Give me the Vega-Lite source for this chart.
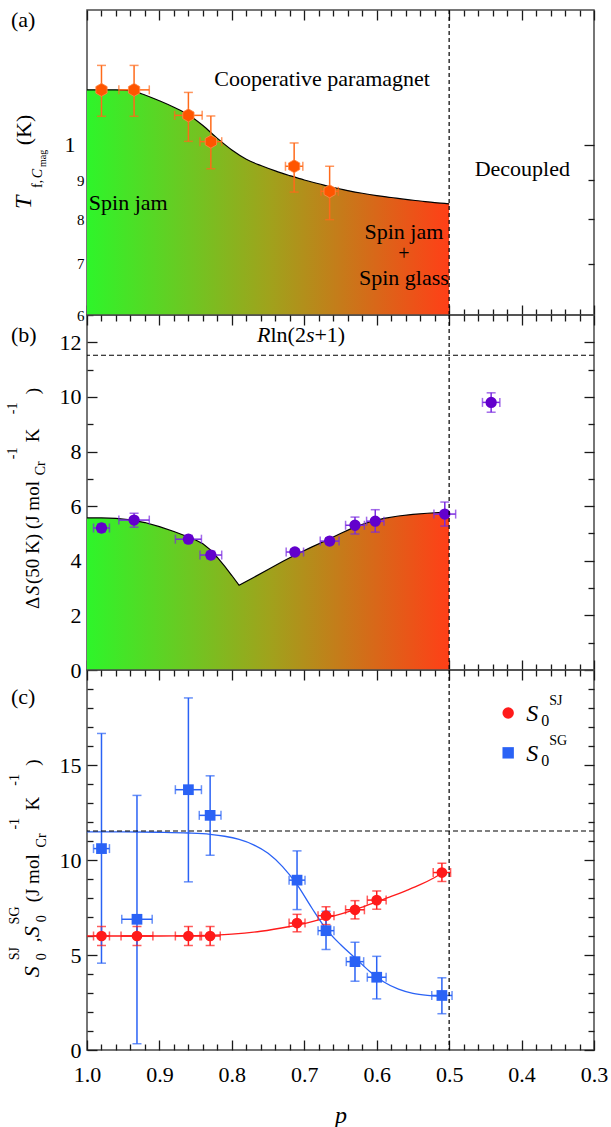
{
"$schema":"https://vega.github.io/schema/vega-lite/v6.json",
"background":"white",
"padding":{"left":5,"top":8,"right":0,"bottom":0},
"spacing":0,
"bounds":"flush",
"config":{
 "font":"Liberation Serif",
 "view":{"stroke":"#4a4a4a","strokeWidth":1.5},
 "axis":{"grid":false,"domain":false,"tickColor":"#1a1a1a","tickWidth":1.3,"labelFont":"Liberation Serif","labelFontSize":22,"labelColor":"#000","labelOverlap":false,"labelFlush":false,"titleFont":"Liberation Serif","titleColor":"#000"},
 "text":{"font":"Liberation Serif","fontSize":22,"color":"#000"}
},
"datasets":{
 "a_curve":[{"p":1.0,"T":11.8},{"p":0.98,"T":11.8},{"p":0.96,"T":11.8},{"p":0.94,"T":11.77},{"p":0.92,"T":11.62},{"p":0.9,"T":11.42},{"p":0.88,"T":11.2},{"p":0.86,"T":10.95},{"p":0.84,"T":10.6},{"p":0.82,"T":10.2},{"p":0.8,"T":9.85},{"p":0.78,"T":9.58},{"p":0.76,"T":9.4},{"p":0.74,"T":9.25},{"p":0.72,"T":9.12},{"p":0.7,"T":9.0},{"p":0.68,"T":8.9},{"p":0.66,"T":8.8},{"p":0.64,"T":8.72},{"p":0.62,"T":8.65},{"p":0.6,"T":8.59},{"p":0.58,"T":8.54},{"p":0.56,"T":8.49},{"p":0.54,"T":8.45},{"p":0.52,"T":8.41},{"p":0.5,"T":8.38}],
 "a_pts":[
  {"p":0.98,"T":11.8,"lo":10.9,"hi":12.7,"plo":0.977,"phi":0.983},
  {"p":0.935,"T":11.8,"lo":10.9,"hi":12.7,"plo":0.914,"phi":0.956},
  {"p":0.86,"T":10.93,"lo":10.11,"hi":11.71,"plo":0.841,"phi":0.879},
  {"p":0.829,"T":10.1,"lo":9.31,"hi":10.91,"plo":0.814,"phi":0.844},
  {"p":0.714,"T":9.38,"lo":8.68,"hi":10.06,"plo":0.702,"phi":0.726},
  {"p":0.665,"T":8.7,"lo":7.99,"hi":9.38,"plo":0.653,"phi":0.677}],
 "b_curve":[{"p":1.0,"S":5.57},{"p":0.98,"S":5.57},{"p":0.96,"S":5.55},{"p":0.94,"S":5.5},{"p":0.92,"S":5.4},{"p":0.9,"S":5.25},{"p":0.88,"S":5.07},{"p":0.86,"S":4.87},{"p":0.85,"S":4.76},{"p":0.84,"S":4.62},{"p":0.83,"S":4.41},{"p":0.82,"S":4.12},{"p":0.81,"S":3.8},{"p":0.8,"S":3.46},{"p":0.79,"S":3.1},{"p":0.77,"S":3.39},{"p":0.75,"S":3.68},{"p":0.73,"S":3.97},{"p":0.71,"S":4.25},{"p":0.69,"S":4.5},{"p":0.67,"S":4.74},{"p":0.65,"S":5.0},{"p":0.63,"S":5.24},{"p":0.61,"S":5.42},{"p":0.59,"S":5.55},{"p":0.57,"S":5.64},{"p":0.55,"S":5.7},{"p":0.53,"S":5.74},{"p":0.51,"S":5.77},{"p":0.5,"S":5.78}],
 "b_pts":[
  {"p":0.98,"S":5.2,"lo":5.05,"hi":5.35,"plo":0.969,"phi":0.991},
  {"p":0.935,"S":5.49,"lo":5.23,"hi":5.74,"plo":0.914,"phi":0.956},
  {"p":0.86,"S":4.79,"lo":4.65,"hi":4.93,"plo":0.842,"phi":0.878},
  {"p":0.829,"S":4.21,"lo":4.07,"hi":4.35,"plo":0.814,"phi":0.844},
  {"p":0.713,"S":4.32,"lo":4.2,"hi":4.44,"plo":0.701,"phi":0.725},
  {"p":0.665,"S":4.72,"lo":4.6,"hi":4.84,"plo":0.652,"phi":0.678},
  {"p":0.63,"S":5.3,"lo":4.98,"hi":5.6,"plo":0.617,"phi":0.643},
  {"p":0.602,"S":5.45,"lo":5.05,"hi":5.87,"plo":0.59,"phi":0.614},
  {"p":0.506,"S":5.71,"lo":5.27,"hi":6.15,"plo":0.491,"phi":0.521},
  {"p":0.442,"S":9.8,"lo":9.44,"hi":10.15,"plo":0.43,"phi":0.454}],
 "c_curve":[
  {"series":"SJ","p":1.0,"S":6.0},{"series":"SJ","p":0.95,"S":6.0},{"series":"SJ","p":0.9,"S":6.0},{"series":"SJ","p":0.85,"S":6.02},{"series":"SJ","p":0.8,"S":6.1},{"series":"SJ","p":0.76,"S":6.25},{"series":"SJ","p":0.72,"S":6.5},{"series":"SJ","p":0.7,"S":6.65},{"series":"SJ","p":0.68,"S":6.85},{"series":"SJ","p":0.66,"S":7.05},{"series":"SJ","p":0.64,"S":7.27},{"series":"SJ","p":0.62,"S":7.52},{"series":"SJ","p":0.6,"S":7.8},{"series":"SJ","p":0.58,"S":8.08},{"series":"SJ","p":0.56,"S":8.38},{"series":"SJ","p":0.54,"S":8.7},{"series":"SJ","p":0.52,"S":9.08},{"series":"SJ","p":0.51,"S":9.3},
  {"series":"SG","p":1.0,"S":11.48},{"series":"SG","p":0.95,"S":11.48},{"series":"SG","p":0.9,"S":11.46},{"series":"SG","p":0.86,"S":11.42},{"series":"SG","p":0.83,"S":11.35},{"series":"SG","p":0.81,"S":11.25},{"series":"SG","p":0.79,"S":11.08},{"series":"SG","p":0.77,"S":10.8},{"series":"SG","p":0.75,"S":10.35},{"series":"SG","p":0.73,"S":9.65},{"series":"SG","p":0.71,"S":8.7},{"series":"SG","p":0.69,"S":7.5},{"series":"SG","p":0.67,"S":6.38},{"series":"SG","p":0.65,"S":5.55},{"series":"SG","p":0.63,"S":4.85},{"series":"SG","p":0.61,"S":4.15},{"series":"SG","p":0.59,"S":3.58},{"series":"SG","p":0.57,"S":3.2},{"series":"SG","p":0.55,"S":2.98},{"series":"SG","p":0.53,"S":2.87},{"series":"SG","p":0.51,"S":2.82}],
 "c_pts":[
  {"series":"SJ","p":0.98,"S":6.0,"lo":5.5,"hi":6.5,"plo":0.969,"phi":0.991},
  {"series":"SJ","p":0.931,"S":6.0,"lo":5.5,"hi":6.5,"plo":0.909,"phi":0.953},
  {"series":"SJ","p":0.86,"S":6.0,"lo":5.5,"hi":6.5,"plo":0.842,"phi":0.878},
  {"series":"SJ","p":0.83,"S":6.0,"lo":5.5,"hi":6.5,"plo":0.816,"phi":0.844},
  {"series":"SJ","p":0.71,"S":6.68,"lo":6.22,"hi":7.14,"plo":0.699,"phi":0.721},
  {"series":"SJ","p":0.67,"S":7.07,"lo":6.6,"hi":7.54,"plo":0.659,"phi":0.681},
  {"series":"SJ","p":0.63,"S":7.38,"lo":6.9,"hi":7.86,"plo":0.617,"phi":0.643},
  {"series":"SJ","p":0.6,"S":7.89,"lo":7.41,"hi":8.37,"plo":0.587,"phi":0.613},
  {"series":"SJ","p":0.51,"S":9.34,"lo":8.87,"hi":9.83,"plo":0.498,"phi":0.522},
  {"series":"SG","p":0.98,"S":10.6,"lo":4.57,"hi":16.66,"plo":0.969,"phi":0.991},
  {"series":"SG","p":0.931,"S":6.88,"lo":0.33,"hi":13.4,"plo":0.91,"phi":0.952},
  {"series":"SG","p":0.86,"S":13.7,"lo":8.85,"hi":18.53,"plo":0.842,"phi":0.878},
  {"series":"SG","p":0.83,"S":12.35,"lo":10.25,"hi":14.43,"plo":0.815,"phi":0.845},
  {"series":"SG","p":0.71,"S":8.94,"lo":7.39,"hi":10.48,"plo":0.699,"phi":0.721},
  {"series":"SG","p":0.67,"S":6.28,"lo":5.29,"hi":7.3,"plo":0.659,"phi":0.681},
  {"series":"SG","p":0.63,"S":4.65,"lo":3.62,"hi":5.67,"plo":0.618,"phi":0.642},
  {"series":"SG","p":0.6,"S":3.83,"lo":2.69,"hi":4.93,"plo":0.587,"phi":0.613},
  {"series":"SG","p":0.51,"S":2.87,"lo":1.91,"hi":3.8,"plo":0.496,"phi":0.524}],
 "c_legend":[{"series":"SJ","p":0.4185,"S":17.74},{"series":"SG","p":0.4185,"S":15.64}]
},
"vconcat":[
 {
  "width":507,"height":305,
  "resolve":{"axis":{"x":"independent","y":"independent"}},
  "layer":[
   {"data":{"name":"a_curve"},
    "mark":{"type":"area","interpolate":"monotone","fill":{"gradient":"linear","x1":0,"y1":0,"x2":1,"y2":0,"stops":[{"offset":0,"color":"#2ef52a"},{"offset":0.5,"color":"#9fa31c"},{"offset":1,"color":"#ff3f17"}]}},
    "encoding":{
     "x":{"field":"p","type":"quantitative","scale":{"domain":[0.3,1.0],"reverse":true,"nice":false,"zero":false},"axis":{"orient":"bottom","values":[1,0.9,0.8,0.7,0.6,0.5,0.4,0.3],"tickSize":-10,"labels":false,"title":null}},
     "y":{"field":"T","type":"quantitative","scale":{"type":"log","domain":[6,15],"nice":false},"axis":{"orient":"left","values":[10],"tickSize":-10,"labelExpr":"'1'","labelPadding":22,"labelFont":"Liberation Serif","title":null}},
     "y2":{"datum":6}}},
   {"data":{"name":"a_curve"},
    "mark":{"type":"line","interpolate":"monotone","color":"#000","strokeWidth":1.2},
    "encoding":{
     "x":{"field":"p","type":"quantitative","axis":{"orient":"bottom","values":[0.98,0.96,0.94,0.92,0.88,0.86,0.84,0.82,0.78,0.76,0.74,0.72,0.68,0.66,0.64,0.62,0.58,0.56,0.54,0.52,0.48,0.46,0.44,0.42,0.38,0.36,0.34,0.32],"tickSize":-6,"labels":false,"title":null}},
     "y":{"field":"T","type":"quantitative","axis":{"orient":"left","values":[6,7,8,9],"tickSize":-6,"labelFontSize":15,"labelPadding":9,"labelFont":"Liberation Serif","title":null}}}},
   {"data":{"name":"a_pts"},
    "mark":{"type":"rule","color":"#ff6a1a","strokeWidth":1.5},
    "encoding":{
     "x":{"field":"p","type":"quantitative","axis":{"orient":"top","values":[1,0.9,0.8,0.7,0.6,0.5,0.4,0.3],"tickSize":-10,"labels":false,"title":null}},
     "y":{"field":"lo","type":"quantitative","axis":{"orient":"right","values":[10],"tickSize":-10,"labels":false,"title":null}},
     "y2":{"field":"hi"}}},
   {"data":{"name":"a_pts"},
    "mark":{"type":"rule","color":"#ff6a1a","strokeWidth":1.5},
    "encoding":{
     "x":{"field":"plo","type":"quantitative","axis":{"orient":"top","values":[0.98,0.96,0.94,0.92,0.88,0.86,0.84,0.82,0.78,0.76,0.74,0.72,0.68,0.66,0.64,0.62,0.58,0.56,0.54,0.52,0.48,0.46,0.44,0.42,0.38,0.36,0.34,0.32],"tickSize":-6,"labels":false,"title":null}},
     "x2":{"field":"phi"},
     "y":{"field":"T","type":"quantitative","axis":{"orient":"right","values":[7,8,9],"tickSize":-6,"labels":false,"title":null}}}},
   {"data":{"name":"a_pts"},"mark":{"type":"tick","orient":"horizontal","size":9,"thickness":1.5,"color":"#ff6a1a"},
    "encoding":{"x":{"field":"p","type":"quantitative","axis":null},"y":{"field":"lo","type":"quantitative","axis":null}}},
   {"data":{"name":"a_pts"},"mark":{"type":"tick","orient":"horizontal","size":9,"thickness":1.5,"color":"#ff6a1a"},
    "encoding":{"x":{"field":"p","type":"quantitative","axis":null},"y":{"field":"hi","type":"quantitative","axis":null}}},
   {"data":{"name":"a_pts"},"mark":{"type":"tick","orient":"vertical","size":9,"thickness":1.5,"color":"#ff6a1a"},
    "encoding":{"x":{"field":"plo","type":"quantitative","axis":null},"y":{"field":"T","type":"quantitative","axis":null}}},
   {"data":{"name":"a_pts"},"mark":{"type":"tick","orient":"vertical","size":9,"thickness":1.5,"color":"#ff6a1a"},
    "encoding":{"x":{"field":"phi","type":"quantitative","axis":null},"y":{"field":"T","type":"quantitative","axis":null}}},
   {"data":{"name":"a_pts"},"mark":{"type":"point","shape":"M0,-1L0.866,-0.5L0.866,0.5L0,1L-0.866,0.5L-0.866,-0.5Z","filled":true,"size":170,"fill":"#ff5500","stroke":"#ff8a4a","strokeWidth":0.8,"opacity":1},
    "encoding":{"x":{"field":"p","type":"quantitative","axis":null},"y":{"field":"T","type":"quantitative","axis":null}}},
   {"data":{"values":[{}]},"mark":{"type":"rule","strokeDash":[4,3],"color":"#000","strokeWidth":1.2},
    "encoding":{"x":{"datum":0.5,"type":"quantitative","axis":null}}},
   {"data":{"values":[
     {"t":"Cooperative paramagnet","p":0.6754,"v":11.94},
     {"t":"Decoupled","p":0.399,"v":9.11},
     {"t":"Spin jam","p":0.943,"v":8.22},
     {"t":"Spin jam","p":0.5625,"v":7.54},
     {"t":"Spin glass","p":0.5625,"v":6.57}]},
    "mark":{"type":"text","align":"center","baseline":"alphabetic","font":"Liberation Serif","fontSize":22},
    "encoding":{"x":{"field":"p","type":"quantitative","axis":null},"y":{"field":"v","type":"quantitative","axis":null},"text":{"field":"t"}}},
   {"data":{"values":[{"t":"+","p":0.5625,"v":7.07}]},
    "mark":{"type":"text","align":"center","baseline":"alphabetic","font":"Liberation Serif","fontSize":20},
    "encoding":{"x":{"field":"p","type":"quantitative","axis":null},"y":{"field":"v","type":"quantitative","axis":null},"text":{"field":"t"}}},
   {"data":{"values":[{"t":"(K)","v":9.99}]},
    "mark":{"type":"text","angle":270,"align":"left","baseline":"alphabetic","font":"Liberation Serif","fontSize":22,"dy":-56},
    "encoding":{"x":{"datum":1.0,"type":"quantitative","axis":null},"y":{"field":"v","type":"quantitative","axis":null},"text":{"field":"t"}}},
   {"data":{"values":[{"t":"T","v":8.25}]},
    "mark":{"type":"text","angle":270,"align":"left","baseline":"alphabetic","font":"Liberation Serif","fontSize":24,"fontStyle":"italic","dy":-56},
    "encoding":{"x":{"datum":1.0,"type":"quantitative","axis":null},"y":{"field":"v","type":"quantitative","axis":null},"text":{"field":"t"}}},
   {"data":{"values":[{"t":"f,","v":8.79}]},
    "mark":{"type":"text","angle":270,"align":"left","baseline":"alphabetic","font":"Liberation Serif","fontSize":14,"dy":-45},
    "encoding":{"x":{"datum":1.0,"type":"quantitative","axis":null},"y":{"field":"v","type":"quantitative","axis":null},"text":{"field":"t"}}},
   {"data":{"values":[{"t":"C","v":9.05}]},
    "mark":{"type":"text","angle":270,"align":"left","baseline":"alphabetic","font":"Liberation Serif","fontSize":14,"fontStyle":"italic","dy":-45},
    "encoding":{"x":{"datum":1.0,"type":"quantitative","axis":null},"y":{"field":"v","type":"quantitative","axis":null},"text":{"field":"t"}}},
   {"data":{"values":[{"t":"mag","v":9.36}]},
    "mark":{"type":"text","angle":270,"align":"left","baseline":"alphabetic","font":"Liberation Serif","fontSize":10,"dy":-41},
    "encoding":{"x":{"datum":1.0,"type":"quantitative","axis":null},"y":{"field":"v","type":"quantitative","axis":null},"text":{"field":"t"}}},
   {"data":{"values":[{"t":"(a)","v":14.25}]},
    "mark":{"type":"text","align":"left","baseline":"alphabetic","font":"Liberation Serif","fontSize":22,"dx":-76},
    "encoding":{"x":{"datum":1.0,"type":"quantitative","axis":null},"y":{"field":"v","type":"quantitative","axis":null},"text":{"field":"t"}}}
  ]
 },
 {
  "width":507,"height":355,
  "resolve":{"axis":{"x":"independent","y":"independent"}},
  "layer":[
   {"data":{"name":"b_curve"},
    "mark":{"type":"area","fill":{"gradient":"linear","x1":0,"y1":0,"x2":1,"y2":0,"stops":[{"offset":0,"color":"#2ef52a"},{"offset":0.5,"color":"#9fa31c"},{"offset":1,"color":"#ff3f17"}]}},
    "encoding":{
     "x":{"field":"p","type":"quantitative","scale":{"domain":[0.3,1.0],"reverse":true,"nice":false,"zero":false},"axis":{"orient":"bottom","values":[1,0.9,0.8,0.7,0.6,0.5,0.4,0.3],"tickSize":-10,"labels":false,"title":null}},
     "y":{"field":"S","type":"quantitative","scale":{"domain":[0,13],"nice":false},"axis":{"orient":"left","values":[0,2,4,6,8,10,12],"tickSize":-10,"labelPadding":16,"labelFont":"Liberation Serif","title":null}}}},
   {"data":{"name":"b_curve"},
    "mark":{"type":"line","color":"#000","strokeWidth":1.2},
    "encoding":{
     "x":{"field":"p","type":"quantitative","axis":{"orient":"bottom","values":[0.98,0.96,0.94,0.92,0.88,0.86,0.84,0.82,0.78,0.76,0.74,0.72,0.68,0.66,0.64,0.62,0.58,0.56,0.54,0.52,0.48,0.46,0.44,0.42,0.38,0.36,0.34,0.32],"tickSize":-6,"labels":false,"title":null}},
     "y":{"field":"S","type":"quantitative","axis":{"orient":"left","values":[1,3,5,7,9,11],"tickSize":-6,"labels":false,"title":null}}}},
   {"data":{"name":"b_pts"},
    "mark":{"type":"rule","color":"#7a2be0","strokeWidth":1.5},
    "encoding":{
     "x":{"field":"p","type":"quantitative","axis":{"orient":"top","values":[1,0.9,0.8,0.7,0.6,0.5,0.4,0.3],"tickSize":-10,"labels":false,"title":null}},
     "y":{"field":"lo","type":"quantitative","axis":{"orient":"right","values":[0,2,4,6,8,10,12],"tickSize":-10,"labels":false,"title":null}},
     "y2":{"field":"hi"}}},
   {"data":{"name":"b_pts"},
    "mark":{"type":"rule","color":"#7a2be0","strokeWidth":1.5},
    "encoding":{
     "x":{"field":"plo","type":"quantitative","axis":{"orient":"top","values":[0.98,0.96,0.94,0.92,0.88,0.86,0.84,0.82,0.78,0.76,0.74,0.72,0.68,0.66,0.64,0.62,0.58,0.56,0.54,0.52,0.48,0.46,0.44,0.42,0.38,0.36,0.34,0.32],"tickSize":-6,"labels":false,"title":null}},
     "x2":{"field":"phi"},
     "y":{"field":"S","type":"quantitative","axis":{"orient":"right","values":[1,3,5,7,9,11],"tickSize":-6,"labels":false,"title":null}}}},
   {"data":{"name":"b_pts"},"mark":{"type":"tick","orient":"horizontal","size":9,"thickness":1.5,"color":"#7a2be0"},
    "encoding":{"x":{"field":"p","type":"quantitative","axis":null},"y":{"field":"lo","type":"quantitative","axis":null}}},
   {"data":{"name":"b_pts"},"mark":{"type":"tick","orient":"horizontal","size":9,"thickness":1.5,"color":"#7a2be0"},
    "encoding":{"x":{"field":"p","type":"quantitative","axis":null},"y":{"field":"hi","type":"quantitative","axis":null}}},
   {"data":{"name":"b_pts"},"mark":{"type":"tick","orient":"vertical","size":9,"thickness":1.5,"color":"#7a2be0"},
    "encoding":{"x":{"field":"plo","type":"quantitative","axis":null},"y":{"field":"S","type":"quantitative","axis":null}}},
   {"data":{"name":"b_pts"},"mark":{"type":"tick","orient":"vertical","size":9,"thickness":1.5,"color":"#7a2be0"},
    "encoding":{"x":{"field":"phi","type":"quantitative","axis":null},"y":{"field":"S","type":"quantitative","axis":null}}},
   {"data":{"name":"b_pts"},"mark":{"type":"point","shape":"circle","filled":true,"size":128,"fill":"#6200cc","opacity":1},
    "encoding":{"x":{"field":"p","type":"quantitative","axis":null},"y":{"field":"S","type":"quantitative","axis":null}}},
   {"data":{"values":[{}]},"mark":{"type":"rule","strokeDash":[4,3],"color":"#000","strokeWidth":1.2},
    "encoding":{"x":{"datum":0.5,"type":"quantitative","axis":null}}},
   {"data":{"values":[{}]},"mark":{"type":"rule","strokeDash":[5,3],"color":"#000","strokeWidth":1.2},
    "encoding":{"y":{"datum":11.526,"type":"quantitative","axis":null}}},
   {"data":{"values":[{"t":"ln(2","p":0.7467,"v":12.0},{"t":"+1)","p":0.686,"v":12.0}]},
    "mark":{"type":"text","align":"left","baseline":"alphabetic","font":"Liberation Serif","fontSize":22},
    "encoding":{"x":{"field":"p","type":"quantitative","axis":null},"y":{"field":"v","type":"quantitative","axis":null},"text":{"field":"t"}}},
   {"data":{"values":[{"t":"R","p":0.7652,"v":12.0},{"t":"s","p":0.6978,"v":12.0}]},
    "mark":{"type":"text","align":"left","baseline":"alphabetic","font":"Liberation Serif","fontSize":22,"fontStyle":"italic"},
    "encoding":{"x":{"field":"p","type":"quantitative","axis":null},"y":{"field":"v","type":"quantitative","axis":null},"text":{"field":"t"}}},
   {"data":{"values":[{"t":"Δ","v":2.23},{"t":"(50 K) (J mol","v":3.15},{"t":"K","v":8.34},{"t":")","v":10.1}]},
    "mark":{"type":"text","angle":270,"align":"left","baseline":"alphabetic","font":"Liberation Serif","fontSize":19,"dy":-48},
    "encoding":{"x":{"datum":1.0,"type":"quantitative","axis":null},"y":{"field":"v","type":"quantitative","axis":null},"text":{"field":"t"}}},
   {"data":{"values":[{"t":"S","v":2.74}]},
    "mark":{"type":"text","angle":270,"align":"left","baseline":"alphabetic","font":"Liberation Serif","fontSize":19,"fontStyle":"italic","dy":-48},
    "encoding":{"x":{"datum":1.0,"type":"quantitative","axis":null},"y":{"field":"v","type":"quantitative","axis":null},"text":{"field":"t"}}},
   {"data":{"values":[{"t":"Cr","v":7.13}]},
    "mark":{"type":"text","angle":270,"align":"left","baseline":"alphabetic","font":"Liberation Serif","fontSize":14,"dy":-42},
    "encoding":{"x":{"datum":1.0,"type":"quantitative","axis":null},"y":{"field":"v","type":"quantitative","axis":null},"text":{"field":"t"}}},
   {"data":{"values":[{"t":"-1","v":7.72},{"t":"-1","v":9.37}]},
    "mark":{"type":"text","angle":270,"align":"left","baseline":"alphabetic","font":"Liberation Serif","fontSize":14,"dy":-70},
    "encoding":{"x":{"datum":1.0,"type":"quantitative","axis":null},"y":{"field":"v","type":"quantitative","axis":null},"text":{"field":"t"}}},
   {"data":{"values":[{"t":"(b)","v":12.0}]},
    "mark":{"type":"text","align":"left","baseline":"alphabetic","font":"Liberation Serif","fontSize":22,"dx":-76},
    "encoding":{"x":{"datum":1.0,"type":"quantitative","axis":null},"y":{"field":"v","type":"quantitative","axis":null},"text":{"field":"t"}}}
  ]
 },
 {
  "width":507,"height":380,
  "resolve":{"axis":{"x":"independent","y":"independent"}},
  "layer":[
   {"data":{"name":"c_curve"},
    "mark":{"type":"line","interpolate":"monotone","strokeWidth":1.3},
    "encoding":{
     "x":{"field":"p","type":"quantitative","scale":{"domain":[0.3,1.0],"reverse":true,"nice":false,"zero":false},"axis":{"orient":"bottom","values":[1,0.9,0.8,0.7,0.6,0.5,0.4,0.3],"tickSize":-10,"labelPadding":24,"labelFont":"Liberation Serif","labelExpr":"format(datum.value,'.1f')","title":"p","titleFont":"Liberation Serif","titleFontStyle":"italic","titleFontSize":24,"titleFontWeight":"normal","titlePadding":18}},
     "y":{"field":"S","type":"quantitative","scale":{"domain":[0,20],"nice":false},"axis":{"orient":"left","values":[0,5,10,15],"tickSize":-10,"labelPadding":16,"labelFont":"Liberation Serif","title":null}},
     "color":{"field":"series","type":"nominal","scale":{"domain":["SJ","SG"],"range":["#ff1a1a","#2a62f5"]},"legend":null}}},
   {"data":{"name":"c_pts"},
    "mark":{"type":"rule","strokeWidth":1.5},
    "encoding":{
     "x":{"field":"p","type":"quantitative","axis":{"orient":"bottom","values":[0.98,0.96,0.94,0.92,0.88,0.86,0.84,0.82,0.78,0.76,0.74,0.72,0.68,0.66,0.64,0.62,0.58,0.56,0.54,0.52,0.48,0.46,0.44,0.42,0.38,0.36,0.34,0.32],"tickSize":-6,"labels":false,"title":null}},
     "y":{"field":"lo","type":"quantitative","axis":{"orient":"left","values":[1,2,3,4,6,7,8,9,11,12,13,14,16,17,18,19],"tickSize":-6,"labels":false,"title":null}},
     "y2":{"field":"hi"},
     "color":{"field":"series","type":"nominal","legend":null}}},
   {"data":{"name":"c_pts"},
    "mark":{"type":"rule","strokeWidth":1.5},
    "encoding":{
     "x":{"field":"plo","type":"quantitative","axis":{"orient":"top","values":[1,0.9,0.8,0.7,0.6,0.5,0.4,0.3],"tickSize":-10,"labels":false,"title":null}},
     "x2":{"field":"phi"},
     "y":{"field":"S","type":"quantitative","axis":{"orient":"right","values":[0,5,10,15],"tickSize":-10,"labels":false,"title":null}},
     "color":{"field":"series","type":"nominal","legend":null}}},
   {"data":{"name":"c_pts"},"mark":{"type":"tick","orient":"horizontal","size":9,"thickness":1.5},
    "encoding":{
     "x":{"field":"p","type":"quantitative","axis":{"orient":"top","values":[0.98,0.96,0.94,0.92,0.88,0.86,0.84,0.82,0.78,0.76,0.74,0.72,0.68,0.66,0.64,0.62,0.58,0.56,0.54,0.52,0.48,0.46,0.44,0.42,0.38,0.36,0.34,0.32],"tickSize":-6,"labels":false,"title":null}},
     "y":{"field":"lo","type":"quantitative","axis":{"orient":"right","values":[1,2,3,4,6,7,8,9,11,12,13,14,16,17,18,19],"tickSize":-6,"labels":false,"title":null}},
     "color":{"field":"series","type":"nominal","legend":null}}},
   {"data":{"name":"c_pts"},"mark":{"type":"tick","orient":"horizontal","size":9,"thickness":1.5},
    "encoding":{"x":{"field":"p","type":"quantitative","axis":null},"y":{"field":"hi","type":"quantitative","axis":null},"color":{"field":"series","type":"nominal","legend":null}}},
   {"data":{"name":"c_pts"},"mark":{"type":"tick","orient":"vertical","size":9,"thickness":1.5},
    "encoding":{"x":{"field":"plo","type":"quantitative","axis":null},"y":{"field":"S","type":"quantitative","axis":null},"color":{"field":"series","type":"nominal","legend":null}}},
   {"data":{"name":"c_pts"},"mark":{"type":"tick","orient":"vertical","size":9,"thickness":1.5},
    "encoding":{"x":{"field":"phi","type":"quantitative","axis":null},"y":{"field":"S","type":"quantitative","axis":null},"color":{"field":"series","type":"nominal","legend":null}}},
   {"data":{"name":"c_pts"},"mark":{"type":"point","filled":true,"size":115,"opacity":1},
    "encoding":{"x":{"field":"p","type":"quantitative","axis":null},"y":{"field":"S","type":"quantitative","axis":null},
     "color":{"field":"series","type":"nominal","legend":null},
     "shape":{"field":"series","type":"nominal","scale":{"domain":["SJ","SG"],"range":["circle","square"]},"legend":null}}},
   {"data":{"values":[{}]},"mark":{"type":"rule","strokeDash":[4,3],"color":"#000","strokeWidth":1.2},
    "encoding":{"x":{"datum":0.5,"type":"quantitative","axis":null}}},
   {"data":{"values":[{}]},"mark":{"type":"rule","strokeDash":[5,3],"color":"#000","strokeWidth":1.2},
    "encoding":{"y":{"datum":11.526,"type":"quantitative","axis":null}}},
   {"data":{"name":"c_legend"},"mark":{"type":"point","filled":true,"size":130,"opacity":1},
    "encoding":{"x":{"field":"p","type":"quantitative","axis":null},"y":{"field":"S","type":"quantitative","axis":null},
     "color":{"field":"series","type":"nominal","legend":null},
     "shape":{"field":"series","type":"nominal","legend":null}}},
   {"data":{"name":"c_legend"},"mark":{"type":"text","align":"left","baseline":"alphabetic","font":"Liberation Serif","fontSize":24,"fontStyle":"italic","dx":18,"dy":8},
    "encoding":{"x":{"field":"p","type":"quantitative","axis":null},"y":{"field":"S","type":"quantitative","axis":null},"text":{"value":"S"}}},
   {"data":{"name":"c_legend"},"mark":{"type":"text","align":"left","baseline":"alphabetic","font":"Liberation Serif","fontSize":16,"dx":33,"dy":13},
    "encoding":{"x":{"field":"p","type":"quantitative","axis":null},"y":{"field":"S","type":"quantitative","axis":null},"text":{"value":"0"}}},
   {"data":{"name":"c_legend"},"mark":{"type":"text","align":"left","baseline":"alphabetic","font":"Liberation Serif","fontSize":14,"dx":41,"dy":-8},
    "encoding":{"x":{"field":"p","type":"quantitative","axis":null},"y":{"field":"S","type":"quantitative","axis":null},"text":{"field":"series"}}},
   {"data":{"values":[{"t":"S","v":3.83},{"t":"S","v":5.93}]},
    "mark":{"type":"text","angle":270,"align":"left","baseline":"alphabetic","font":"Liberation Serif","fontSize":22,"fontStyle":"italic","dy":-48},
    "encoding":{"x":{"datum":1.0,"type":"quantitative","axis":null},"y":{"field":"v","type":"quantitative","axis":null},"text":{"field":"t"}}},
   {"data":{"values":[{"t":",","v":5.67},{"t":"(J mol","v":7.77},{"t":"K","v":12.6},{"t":")","v":14.96}]},
    "mark":{"type":"text","angle":270,"align":"left","baseline":"alphabetic","font":"Liberation Serif","fontSize":19,"dy":-48},
    "encoding":{"x":{"datum":1.0,"type":"quantitative","axis":null},"y":{"field":"v","type":"quantitative","axis":null},"text":{"field":"t"}}},
   {"data":{"values":[{"t":"0","v":4.72},{"t":"0","v":6.72},{"t":"Cr","v":10.66}]},
    "mark":{"type":"text","angle":270,"align":"left","baseline":"alphabetic","font":"Liberation Serif","fontSize":14,"dy":-41},
    "encoding":{"x":{"datum":1.0,"type":"quantitative","axis":null},"y":{"field":"v","type":"quantitative","axis":null},"text":{"field":"t"}}},
   {"data":{"values":[{"t":"SJ","v":4.72},{"t":"SG","v":6.61},{"t":"-1","v":11.6},{"t":"-1","v":13.91}]},
    "mark":{"type":"text","angle":270,"align":"left","baseline":"alphabetic","font":"Liberation Serif","fontSize":14,"dy":-68},
    "encoding":{"x":{"datum":1.0,"type":"quantitative","axis":null},"y":{"field":"v","type":"quantitative","axis":null},"text":{"field":"t"}}},
   {"data":{"values":[{"t":"(c)","v":18.2}]},
    "mark":{"type":"text","align":"left","baseline":"alphabetic","font":"Liberation Serif","fontSize":22,"dx":-76},
    "encoding":{"x":{"datum":1.0,"type":"quantitative","axis":null},"y":{"field":"v","type":"quantitative","axis":null},"text":{"field":"t"}}}
  ]
 }
]
}
